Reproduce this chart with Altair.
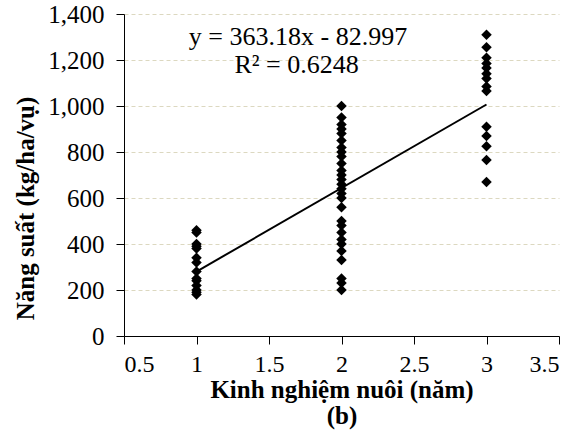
import altair as alt
import pandas as pd

# Experience (years) and yield (kg/ha/season)
x1_vals = [460, 450, 400, 390, 380, 340, 320, 280, 250, 240, 220, 200, 190, 180]
x2_vals = [1000, 950, 920, 900, 880, 850, 820, 800, 780, 750, 720, 700, 680, 660,
           640, 620, 600, 560, 500, 480, 450, 420, 400, 370, 330, 250, 230, 200]
x3_vals = [1310, 1255, 1210, 1185, 1165, 1140, 1120, 1085, 1065, 910, 870, 825, 765, 670]

slope = 363.18
intercept = -82.997
trend_x = [1, 3]

eq_text = ["y = 363.18x - 82.997", "R² = 0.6248"]
eq_x = [1.70, 1.69]
eq_y = [1265, 1143]

rows = [{"x": 1, "y": v} for v in x1_vals] + \
       [{"x": 2, "y": v} for v in x2_vals] + \
       [{"x": 3, "y": v} for v in x3_vals]
pts = pd.DataFrame(rows)
trend = pd.DataFrame({"x": trend_x, "y": [slope * t + intercept for t in trend_x]})
ann = pd.DataFrame({"x": eq_x, "y": eq_y, "t": eq_text})

FONT = "Liberation Serif"

xs = alt.Scale(domain=[0.5, 3.5], nice=False, zero=False)
ys = alt.Scale(domain=[0, 1400], nice=False)

xax = alt.Axis(values=[0.5, 1, 1.5, 2, 2.5, 3, 3.5], format="~g", grid=False,
               title=["Kinh nghiệm nuôi (năm)", "(b)"], titleLineHeight=26,
               titleFontWeight="bold", titleFontSize=25, titleY=41, titleBaseline="top",
               labelFontSize=24, labelPadding=8, tickSize=8)
yax = alt.Axis(values=list(range(0, 1401, 200)), format=",d", grid=True,
               gridColor="#dcd8c0", gridDash=[4, 3], gridWidth=1,
               title="Năng suất (kg/ha/vụ)", titleFontWeight="bold", titleFontSize=25,
               titleX=-86, titleY=194, titleBaseline="bottom", titleAngle=270,
               labelFontSize=25, labelPadding=12, tickSize=8)

points = alt.Chart(pts).mark_point(shape="diamond", filled=True, color="black", size=110, opacity=1).encode(
    x=alt.X("x:Q", scale=xs, axis=xax),
    y=alt.Y("y:Q", scale=ys, axis=yax),
)
line = alt.Chart(trend).mark_line(color="black", strokeWidth=2).encode(
    x=alt.X("x:Q", scale=xs),
    y=alt.Y("y:Q", scale=ys),
)
text = alt.Chart(ann).mark_text(font=FONT, fontSize=26, color="black", baseline="alphabetic").encode(
    x=alt.X("x:Q", scale=xs),
    y=alt.Y("y:Q", scale=ys),
    text="t:N",
)

chart = (line + points + text).properties(
    width=435, height=322,
    autosize=alt.AutoSizeParams(type="none"),
    padding={"left": 124, "top": 14, "right": 23, "bottom": 97},
).configure(font=FONT).configure_axis(
    domainColor="black", tickColor="black", labelColor="black", titleColor="black",
    labelFont=FONT, titleFont=FONT, domainWidth=1,
).configure_view(stroke=None)

chart.save("out.html", embed_options={"renderer": "svg", "actions": False})
